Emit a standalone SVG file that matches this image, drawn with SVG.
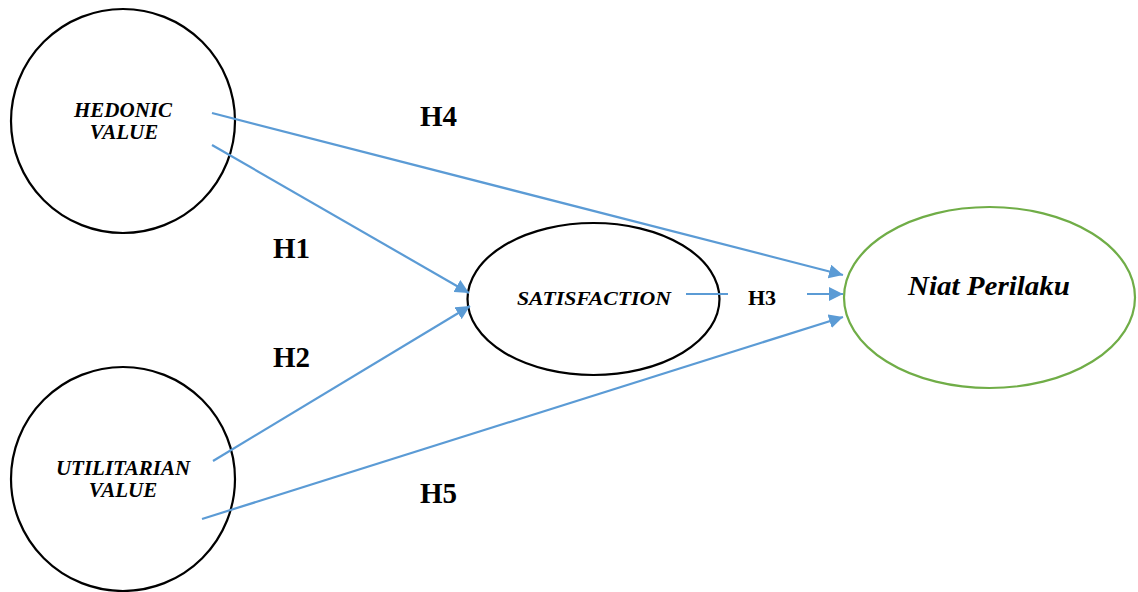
<svg xmlns="http://www.w3.org/2000/svg" width="1138" height="592" viewBox="0 0 1138 592">
<defs>
<marker id="arr" markerUnits="userSpaceOnUse" markerWidth="16" markerHeight="14" refX="14" refY="7" orient="auto">
<path d="M0,0 L14,7 L0,14 Z" fill="#5B9BD5"/>
</marker>
<style>
.node{fill:#fff;stroke:#000;stroke-width:2.2}
.green{fill:#fff;stroke:#70AD47;stroke-width:2.2}
.lbl{font-family:"Liberation Serif",serif;font-weight:bold;font-style:italic;fill:#000;text-anchor:middle}
.h{font-family:"Liberation Serif",serif;font-weight:bold;fill:#000;font-size:29px}
.h3{font-family:"Liberation Serif",serif;font-weight:bold;fill:#000;font-size:22px}
.c{stroke:#5B9BD5;stroke-width:2.2;fill:none}
</style>
</defs>
<rect width="1138" height="592" fill="#fff"/>
<g id="hedonic">
<circle class="node" cx="123" cy="121" r="112"/>
<text class="lbl" font-size="21" x="123" y="117">HEDONIC</text>
<text class="lbl" font-size="21" x="124" y="139">VALUE</text>
</g>
<g id="utilitarian">
<circle class="node" cx="123" cy="479" r="112"/>
<text class="lbl" font-size="21" x="123" y="475">UTILITARIAN</text>
<text class="lbl" font-size="21" x="123" y="497">VALUE</text>
</g>
<g id="satisfaction">
<ellipse class="node" cx="593.5" cy="299" rx="126" ry="76"/>
<text class="lbl" font-size="19" x="594" y="305" textLength="154" lengthAdjust="spacingAndGlyphs">SATISFACTION</text>
</g>
<g id="niat">
<ellipse class="green" cx="989.5" cy="297.5" rx="145.5" ry="90.5"/>
<text class="lbl" font-size="27" x="989" y="295" textLength="162" lengthAdjust="spacingAndGlyphs">Niat Perilaku</text>
</g>
<g id="connectors">
<line class="c" x1="212" y1="113" x2="843" y2="275" marker-end="url(#arr)"/>
<line class="c" x1="212" y1="145" x2="469" y2="293" marker-end="url(#arr)"/>
<line class="c" x1="213" y1="461" x2="470" y2="306" marker-end="url(#arr)"/>
<line class="c" x1="202" y1="519" x2="843" y2="317" marker-end="url(#arr)"/>
<line class="c" x1="686" y1="294" x2="728" y2="294"/>
<line class="c" x1="807" y1="294" x2="843" y2="294" marker-end="url(#arr)"/>
</g>
<g id="labels">
<text class="h" x="420" y="126">H4</text>
<text class="h" x="273" y="258">H1</text>
<text class="h" x="273" y="367">H2</text>
<text class="h" x="420" y="503">H5</text>
<text class="h3" x="748" y="305">H3</text>
</g>
</svg>
